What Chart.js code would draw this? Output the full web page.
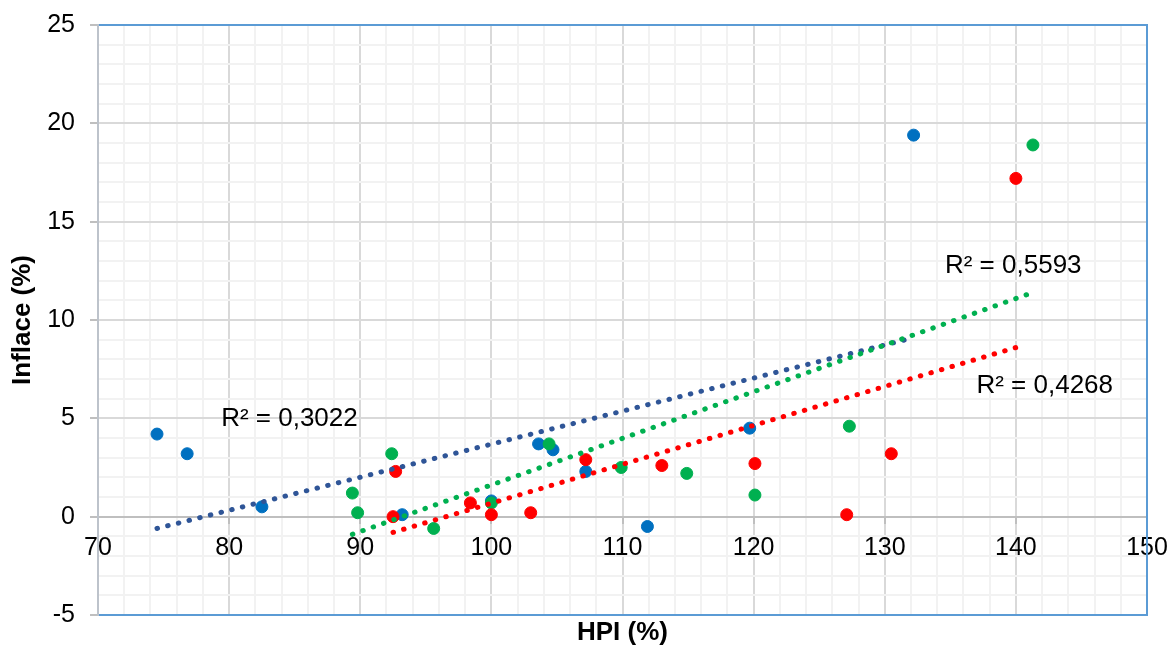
<!DOCTYPE html>
<html>
<head>
<meta charset="utf-8">
<title>HPI vs Inflace</title>
<script src="https://cdn.jsdelivr.net/npm/chart.js@4.4.1/dist/chart.umd.min.js"></script>
<style>
  html, body { margin: 0; padding: 0; background: #fff; }
  #wrap { width: 1173px; height: 648px; position: relative; }
</style>
</head>
<body>
<div id="wrap"><canvas id="chart"></canvas></div>
<script>
// HPI (%) on x, Inflace (%) on y - three country series
const blueX = [74.5, 76.8, 82.5, 93.2, 100.0, 103.6, 104.7, 107.2, 111.9, 119.7, 132.2];
const blueY = [4.2, 3.2, 0.5, 0.1, 0.8, 3.7, 3.4, 2.3, -0.5, 4.5, 19.4];

const greenX = [89.4, 89.8, 92.4, 95.6, 100.0, 104.4, 109.9, 114.9, 120.1, 127.3, 141.3];
const greenY = [1.2, 0.2, 3.2, -0.6, 0.7, 3.7, 2.5, 2.2, 1.1, 4.6, 18.9];

const redX = [92.5, 92.7, 98.4, 100.0, 103.0, 107.2, 113.0, 120.1, 127.1, 130.5, 140.0];
const redY = [0.0, 2.3, 0.7, 0.1, 0.2, 2.9, 2.6, 2.7, 0.1, 3.2, 17.2];

// linear trend end points (start, end) for each series
const blueTrendX = [74.5, 132.2];
const blueTrendY = [-0.6, 9.1];
const greenTrendX = [89.4, 141.3];
const greenTrendY = [-0.9, 11.4];
const redTrendX = [92.5, 140.0];
const redTrendY = [-0.8, 8.6];

// R² of each trend: blue, green, red
const r2Values = [0.3022, 0.5593, 0.4268];

const xTicks = [70, 80, 90, 100, 110, 120, 130, 140, 150];
const yTicks = [-5, 0, 5, 10, 15, 20, 25];

const FONT = 'Arial, "Liberation Sans", sans-serif';
Chart.defaults.font.family = FONT;
Chart.defaults.color = '#000';

const toPoints = (xs, ys) => xs.map((x, i) => ({ x: x, y: ys[i] }));

// where each R² text sits, in axis units
const r2Anchors = [
  { x: 84.6, y: 4.97 },
  { x: 139.8, y: 12.75 },
  { x: 142.2, y: 6.66 },
];

const BLUE = '#0070C0';
const GREEN = '#00B050';
const RED = '#FF0000';
const BLUE_TREND = '#2F5597';

function trendDataset(xs, ys, color) {
  return {
    type: 'line',
    data: toPoints(xs, ys),
    showLine: true,
    borderColor: color,
    borderWidth: 5,
    borderDash: [0.5, 10.5],
    borderCapStyle: 'round',
    pointRadius: 0,
    fill: false,
    xAxisID: 'x',
    yAxisID: 'y',
  };
}

function pointDataset(xs, ys, color) {
  return {
    data: toPoints(xs, ys),
    backgroundColor: color,
    borderColor: color,
    borderWidth: 1,
    pointRadius: 6,
    pointHoverRadius: 6,
    xAxisID: 'x',
    yAxisID: 'y',
  };
}

// blue frame round the plot and the R² texts
const plotDecor = {
  id: 'plotDecor',
  beforeDatasetsDraw(chart) {
    const { ctx, chartArea: a } = chart;
    ctx.save();
    ctx.strokeStyle = '#5B9BD5';
    ctx.lineWidth = 2;
    ctx.beginPath();
    ctx.moveTo(a.left + 1, a.top);
    ctx.lineTo(a.right, a.top);
    ctx.lineTo(a.right, a.bottom);
    ctx.lineTo(a.left + 1, a.bottom);
    ctx.stroke();
    ctx.restore();
  },
  afterDatasetsDraw(chart) {
    const { ctx, scales } = chart;
    ctx.save();
    ctx.font = '26px ' + FONT;
    ctx.fillStyle = '#000';
    ctx.textAlign = 'center';
    ctx.textBaseline = 'middle';
    r2Values.forEach((v, i) => {
      const px = scales.x.getPixelForValue(r2Anchors[i].x);
      const py = scales.y.getPixelForValue(r2Anchors[i].y);
      ctx.fillText('R² = ' + v.toFixed(4).replace('.', ','), px, py);
    });
    ctx.restore();
  },
};

const majorX = v => xTicks.includes(v);
const majorY = v => yTicks.includes(v);

// keep tick label overhang from pushing the plot area around
function noOverhang(scale) {
  scale.paddingTop = 0;
  scale.paddingBottom = 0;
  scale.paddingLeft = 0;
  scale.paddingRight = 0;
}

new Chart(document.getElementById('chart'), {
  type: 'scatter',
  data: {
    datasets: [
      trendDataset(redTrendX, redTrendY, RED),
      trendDataset(greenTrendX, greenTrendY, GREEN),
      trendDataset(blueTrendX, blueTrendY, BLUE_TREND),
      pointDataset(redX, redY, RED),
      pointDataset(greenX, greenY, GREEN),
      pointDataset(blueX, blueY, BLUE),
    ],
  },
  options: {
    responsive: true,
    maintainAspectRatio: false,
    animation: false,
    layout: { padding: { top: 25, right: 26, left: 0, bottom: 0 } },
    plugins: {
      legend: { display: false },
      tooltip: { enabled: false },
    },
    scales: {
      x: {
        type: 'linear',
        position: { y: 0 },
        min: 70,
        max: 150,
        ticks: {
          stepSize: 2,
          autoSkip: false,
          maxRotation: 0,
          padding: 10,
          font: { size: 25 },
          callback: v => (majorX(v) ? v : ''),
        },
        grid: {
          lineWidth: 2,
          tickLength: 6,
          color: c => (majorX(c.tick.value) ? '#D9D9D9' : '#F2F2F2'),
          tickColor: c => (majorX(c.tick.value) ? '#BFBFBF' : 'rgba(0,0,0,0)'),
        },
        border: { display: true, color: '#BFBFBF', width: 2 },
        afterFit: noOverhang,
      },
      xTitle: {
        type: 'linear',
        axis: 'x',
        position: 'bottom',
        min: 70,
        max: 150,
        ticks: { display: false },
        grid: { display: false, drawTicks: false },
        border: { display: false },
        title: {
          display: true,
          text: 'HPI (%)',
          font: { size: 26, weight: 'bold' },
          padding: { top: 0, bottom: 0 },
        },
        afterFit(scale) {
          noOverhang(scale);
          scale.height = 33;
        },
      },
      y: {
        type: 'linear',
        position: 'left',
        min: -5,
        max: 25,
        ticks: {
          stepSize: 1,
          autoSkip: false,
          padding: 15,
          font: { size: 25 },
          callback: v => (majorY(v) ? v : ''),
        },
        grid: {
          lineWidth: 2,
          tickLength: 8,
          color: c => (c.tick.value === 0 ? '#BFBFBF' : majorY(c.tick.value) ? '#D9D9D9' : '#F2F2F2'),
          tickColor: c => (majorY(c.tick.value) ? '#BFBFBF' : 'rgba(0,0,0,0)'),
        },
        border: { display: true, color: '#BDC3CB', width: 2 },
        title: {
          display: true,
          text: 'Inflace (%)',
          font: { size: 26, weight: 'bold' },
          padding: { top: 7, bottom: 0 },
        },
        afterFit(scale) {
          noOverhang(scale);
          scale.width = 98;
        },
      },
    },
  },
  plugins: [plotDecor],
});
</script>
</body>
</html>
